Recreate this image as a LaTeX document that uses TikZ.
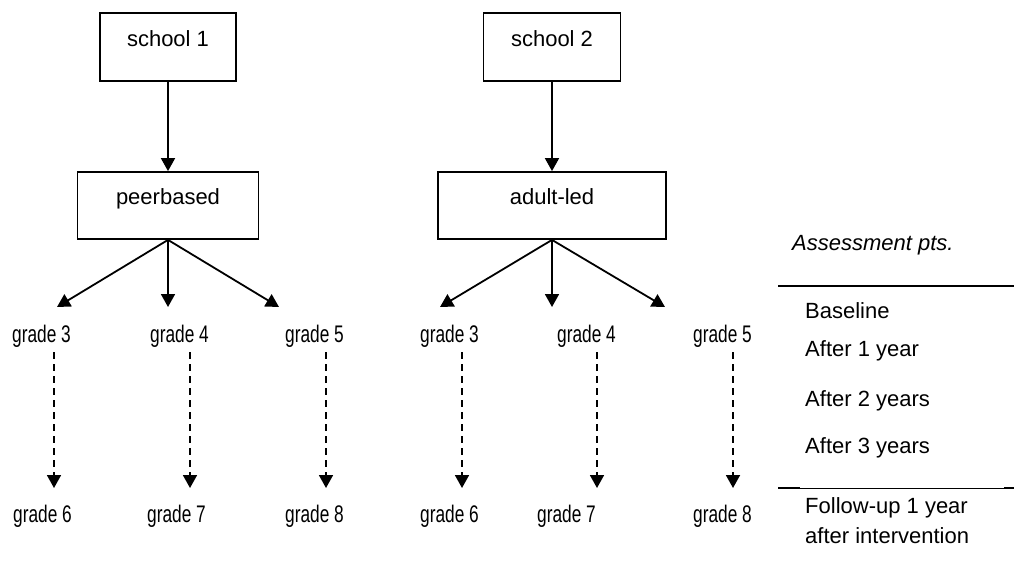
\documentclass[tikz,border=0pt]{standalone}
\usepackage{fontspec}
\setmainfont{Liberation Sans}
\usetikzlibrary{arrows.meta}
\newcommand{\gr}[1]{\scalebox{0.72}[1]{#1}}
\begin{document}
\begin{tikzpicture}[x=1pt,y=-1pt,
  every node/.style={font=\fontsize{22}{26}\selectfont, inner sep=0pt},
  box/.style={draw, line width=1.8pt, align=center},
  conn/.style={line width=1.8pt, -{Triangle[width=14pt,length=13pt]}},
  dconn/.style={conn, dash pattern=on 7pt off 5pt},
  grade/.style={anchor=base west, font=\fontsize{24}{28}\selectfont},
  lbl/.style={anchor=base west}]
\useasboundingbox (0,0) rectangle (1014,575);
% boxes
\node[box, minimum width=136pt, text height=34pt, text depth=34pt] (s1) at (168,47) {school 1};
\node[box, minimum width=181pt, text height=32pt, text depth=35pt] (pb) at (168,205.5) {peerbased};
\node[box, minimum width=137pt, text height=34pt, text depth=34pt] (s2) at (552,47) {school 2};
\node[box, minimum width=228pt, text height=32pt, text depth=35pt] (al) at (552,205.5) {adult-led};
\draw[conn] (s1) -- (pb);
\draw[conn] (s2) -- (al);
% fan tips
\coordinate (t1) at (57,307);
\coordinate (t2) at (168,307);
\coordinate (t3) at (279,307);
\coordinate (t4) at (440,307);
\coordinate (t5) at (552,307);
\coordinate (t6) at (665,307);
\draw[conn] (pb.south) -- (t1);
\draw[conn] (pb.south) -- (t2);
\draw[conn] (pb.south) -- (t3);
\draw[conn] (al.south) -- (t4);
\draw[conn] (al.south) -- (t5);
\draw[conn] (al.south) -- (t6);
% grade labels
\node[grade] (g3a) at (12,342) {\gr{grade 3}};
\node[grade] (g4a) at (150,342) {\gr{grade 4}};
\node[grade] (g5a) at (285,342) {\gr{grade 5}};
\node[grade] (g3b) at (420,342) {\gr{grade 3}};
\node[grade] (g4b) at (557,342) {\gr{grade 4}};
\node[grade] (g5b) at (693,342) {\gr{grade 5}};
\node[grade] (g6a) at (13,522) {\gr{grade 6}};
\node[grade] (g7a) at (147,522) {\gr{grade 7}};
\node[grade] (g8a) at (285,522) {\gr{grade 8}};
\node[grade] (g6b) at (420,522) {\gr{grade 6}};
\node[grade] (g7b) at (537,522) {\gr{grade 7}};
\node[grade] (g8b) at (693,522) {\gr{grade 8}};
% dashed arrows
\foreach \n/\x in {1/54,2/190,3/326,4/462,5/597,6/733}{
  \coordinate (d\n s) at (\x,352);
  \coordinate (d\n e) at (\x,488);
  \draw[dconn] (d\n s) -- (d\n e);
}
% assessment table
\node[lbl, font=\fontsize{22}{26}\selectfont\itshape] (ap) at (792,250) {Assessment pts.};
\draw[line width=1.8pt] (778,286) -- (1014,286);
\node[lbl] (bl) at (805,318) {Baseline};
\node[lbl] (a1) at (805,356) {After 1 year};
\node[lbl] (a2) at (805,406) {After 2 years};
\node[lbl] (a3) at (805,453) {After 3 years};
\draw[line width=0.7pt] (778,488) -- (1014,488);
\draw[line width=1.8pt] (778,488) -- (800,488);
\draw[line width=1.8pt] (1004,488) -- (1014,488);
\node[lbl] (fu) at (805,513) {Follow-up 1 year};
\node[lbl] (ai) at (805,543) {after intervention};
\end{tikzpicture}
\end{document}
